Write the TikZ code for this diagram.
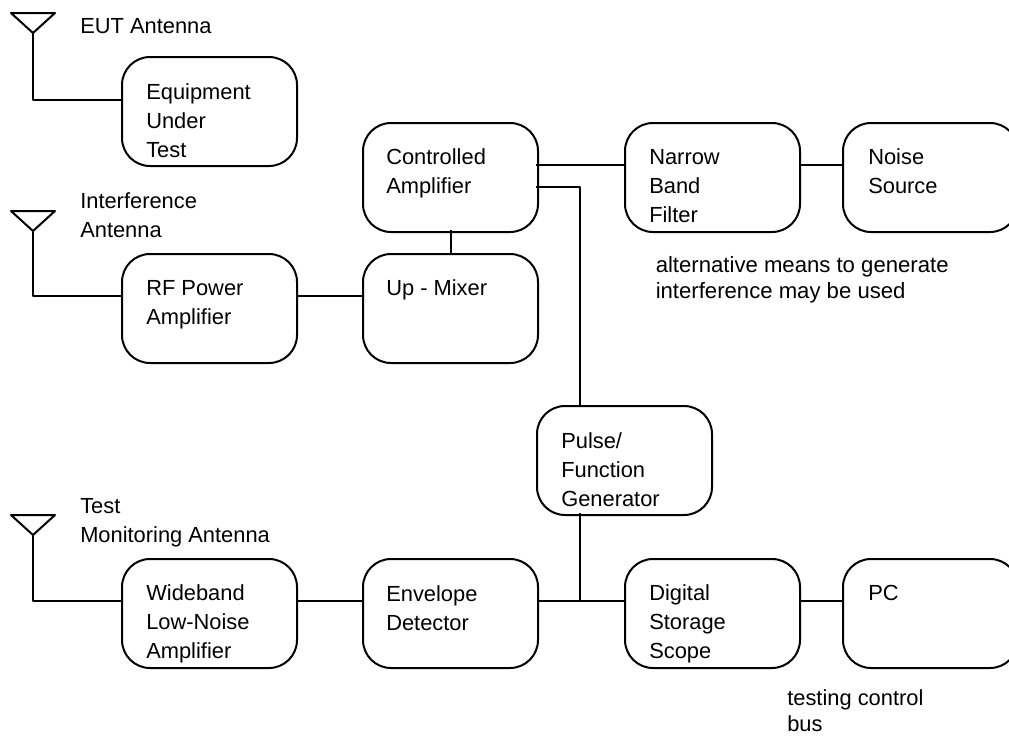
\documentclass[tikz,border=0pt]{standalone}
\usepackage{fontspec}
\setmainfont{Liberation Sans}
\begin{document}
\begin{tikzpicture}[x=0.75pt,y=-0.75pt,
  line join=round,
  wire/.style={line width=1.5pt,black},
  box/.style={draw=black,line width=1.5pt,rounded corners=21pt,minimum width=131.25pt,minimum height=81.75pt,inner sep=0pt,fill=none},
  lbl/.style={anchor=base west,inner sep=0pt,align=left,font=\fontsize{16.4pt}{21.75pt}\selectfont},
  note/.style={lbl,font=\fontsize{16.6pt}{19.8pt}\selectfont}]
\useasboundingbox (0,0) rectangle (1009,736);
\clip (0,0) rectangle (1009,736);
% boxes
\node[box] (eut) at (209.5,111.5) {};
\node[box] (ctrl) at (450.5,177.5) {};
\node[box] (mixer) at (450.5,308.5) {};
\node[box] (rf) at (209.5,308.5) {};
\node[box] (nbf) at (712.5,177.5) {};
\node[box] (noise) at (930.5,177.5) {};
\node[box] (pulse) at (624.5,460.5) {};
\node[box] (lna) at (209.5,613.5) {};
\node[box] (env) at (450.5,613.5) {};
\node[box] (dso) at (712.5,613.5) {};
\node[box] (pc) at (930.5,613.5) {};
% box texts (y = baseline of the last line)
\node[lbl] (teut) at (146,157) {Equipment\\Under\\Test};
\node[lbl] (tctrl) at (386,193) {Controlled\\Amplifier};
\node[lbl] (tmixer) at (386,295) {Up - Mixer};
\node[lbl] (trf) at (146,324) {RF Power\\Amplifier};
\node[lbl] (tnbf) at (649,222) {Narrow\\Band\\Filter};
\node[lbl] (tnoise) at (868,193) {Noise\\Source};
\node[lbl] (tpulse) at (561,506) {Pulse/\\Function\\Generator};
\node[lbl] (tlna) at (146,658) {Wideband\\Low-Noise\\Amplifier};
\node[lbl] (tenv) at (386,630) {Envelope\\Detector};
\node[lbl] (tdso) at (649,658) {Digital\\Storage\\Scope};
\node[lbl] (tpc) at (868,600) {PC};
% free labels
\node[lbl] (leut) at (80,33) {EUT Antenna};
\node[lbl] (lint) at (80,237) {Interference\\Antenna};
\node[lbl] (lmon) at (80,542) {Test\\Monitoring Antenna};
\node[note] (lalt) at (655.5,298.5) {alternative means to generate\\interference may be used};
\node[lbl,font=\fontsize{16.4pt}{19.8pt}\selectfont] (lbus) at (787,731.5) {testing control\\bus};
% antennas
\coordinate (a1) at (33,33);
\coordinate (a2) at (33,231);
\coordinate (a3) at (33,535);
\foreach \a in {a1,a2,a3}
  \draw[wire] ([shift={(-22,-20)}]\a) -- ([shift={(22,-20)}]\a) -- (\a) -- cycle;
\draw[wire] (a1) |- ([yshift=8.625pt]eut.west);
\draw[wire] (a2) |- ([yshift=9.375pt]rf.west);
\draw[wire] (a3) |- ([yshift=9.375pt]lna.west);
% connectors
\coordinate (junc) at (580,601);
\draw[wire] ([shift={(-3,-12.5)}]ctrl.east) -- ([yshift=9.375pt]nbf.west);
\draw[wire] ([shift={(-3,9.5)}]ctrl.east) -| (pulse.north -| junc);
\draw[wire] ([yshift=2pt]ctrl.south) -- (mixer.north);
\draw[wire] ([shift={(-2,-12.5)}]rf.east) -- ([yshift=9.375pt]mixer.west);
\draw[wire] ([shift={(-2,-12.5)}]nbf.east) -- ([yshift=9.375pt]noise.west);
\draw[wire] ([shift={(-2,-12.5)}]lna.east) -- ([yshift=9.375pt]env.west);
\draw[wire] ([shift={(-2,-12.5)}]env.east) -- ([yshift=9.375pt]dso.west);
\draw[wire] ([yshift=2pt]pulse.south -| junc) -- (junc);
\draw[wire] ([shift={(-2,-12.5)}]dso.east) -- ([yshift=9.375pt]pc.west);
\end{tikzpicture}
\end{document}
